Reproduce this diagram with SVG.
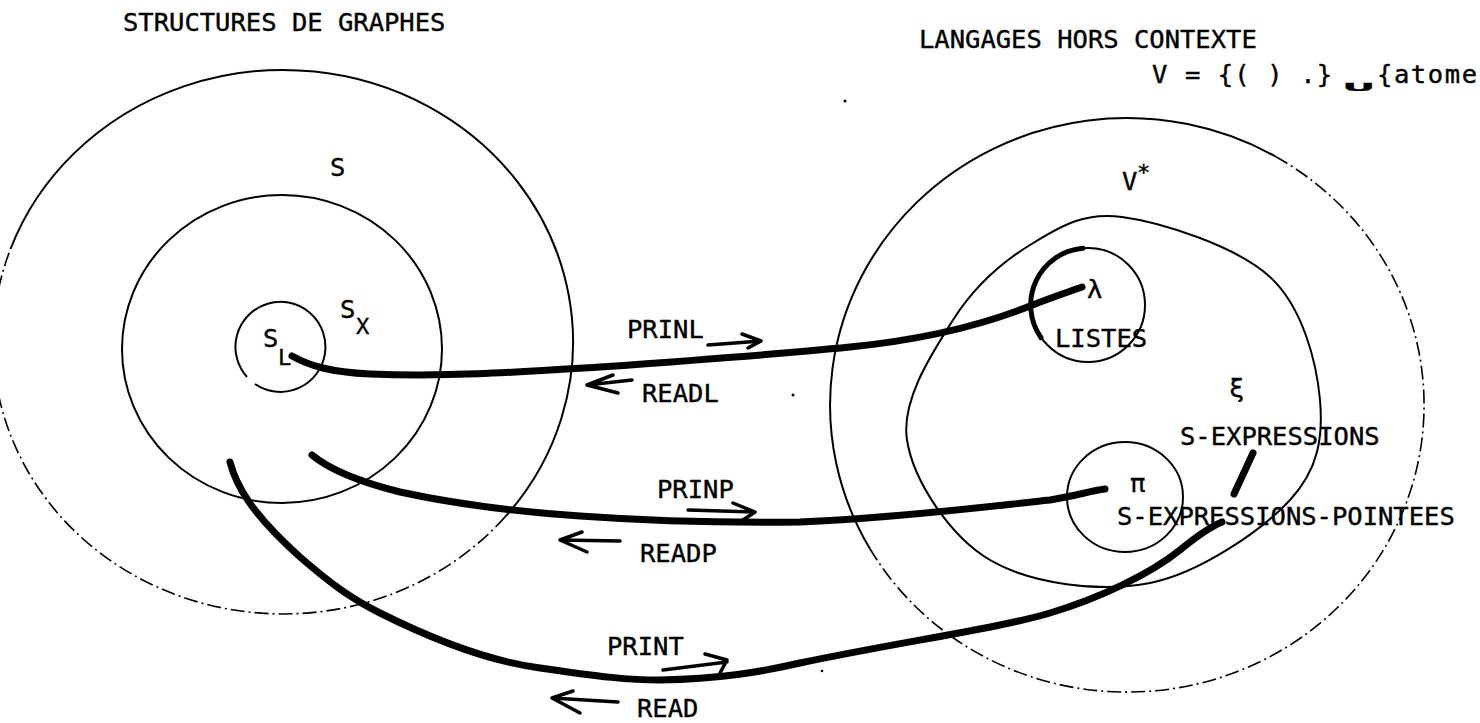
<svg xmlns="http://www.w3.org/2000/svg" width="1480" height="723" viewBox="0 0 1480 723">
<style>
.thin{fill:none;stroke:#000;stroke-width:2}
.dash{fill:none;stroke:#000;stroke-width:1.6;stroke-dasharray:14 4 2 4}
.thick{fill:none;stroke:#000;stroke-width:7;stroke-linecap:round;stroke-linejoin:round}
.arr{fill:none;stroke:#000;stroke-width:3.5;stroke-linecap:round;stroke-linejoin:round}
text{font-family:"DejaVu Sans Mono","Liberation Mono",monospace;font-size:25.5px;fill:#000;stroke:#000;stroke-width:0.4}
.sub{font-size:22px}
</style>
<rect width="1480" height="723" fill="#fff"/>
<g id="titles">
<text x="123" y="31">STRUCTURES DE GRAPHES</text>
<text x="919" y="48">LANGAGES HORS CONTEXTE</text>
<text x="1152" y="83" textLength="180">V = {( ) .}</text>
<text transform="translate(1359,91) scale(2.4,0.55)" text-anchor="middle" font-size="34" font-weight="bold" stroke="#000" stroke-width="2">∪</text>
<text x="1377" y="83" textLength="100">{atome</text>
</g>
<g id="node-S">
<path class="thin" d="M10.5,249 A290,272 0 1 1 505.1,516.9"/>
<path class="dash" d="M505.1,516.9 A290,272 0 0 1 10.5,249"/>
<text x="330" y="176">S</text>
</g>
<g id="node-SX">
<ellipse class="thin" cx="282" cy="349" rx="160" ry="154"/>
<text x="340" y="318">S</text><text class="sub" x="356" y="334">X</text>
</g>
<g id="node-SL">
<path class="thin" d="M247,377 A45,45 0 1 1 255,384"/>
<text x="263" y="347">S</text><text class="sub" x="278" y="365">L</text>
</g>
<g id="node-Vstar">
<path class="thin" d="M869.8,548.5 A297,287 0 0 1 1275.5,156.5"/>
<path class="dash" d="M1275.5,156.5 A297,287 0 1 1 869.8,548.5"/>
<text x="1122" y="190">V</text><text class="sub" x="1137" y="180">*</text>
</g>
<g id="node-xi">
<path class="thin" d="M1122,217 C1162,222.3 1237,246.5 1270,277 C1303,307.5 1316.7,362.8 1320,400 C1323.3,437.2 1318.3,469.5 1290,500 C1261.7,530.5 1200,573 1150,583 C1100,593 1030.5,583.8 990,560 C949.5,536.2 913.2,480 907,440 C900.8,400 932.5,352.5 953,320 C973.5,287.5 1001.8,262.2 1030,245 C1058.2,227.8 1082,211.7 1122,217 Z"/>
<text x="1229" y="397" font-size="24">ξ</text>
<text x="1180" y="445">S-EXPRESSIONS</text>
</g>
<g id="node-lambda">
<circle class="thin" cx="1088" cy="305" r="57"/>
<path fill="none" stroke="#000" stroke-width="5" stroke-linecap="round" d="M1083,248.2 A57,57 0 0 0 1041,337.7"/>
<text x="1087" y="298" font-size="22">λ</text>
<text x="1055" y="347">LISTES</text>
</g>
<g id="node-pi">
<ellipse class="thin" cx="1125" cy="497" rx="58" ry="55"/>
<text x="1130" y="492" font-size="24">π</text>
<text x="1117" y="525">S-EXPRESSIONS-POINTEES</text>
</g>
<g id="connectors">
<path class="thick" d="M292,356 C310,366 330,372 370,374 C450,377 520,372 600,367 C700,360 780,354 850,347 C930,339 990,322 1030,306 C1050,298 1068,292 1082,287"/>
<path class="thick" d="M312,455 C330,470 360,482 400,492 C460,505 520,512 580,516 C650,521 720,523 800,522 C900,518 1000,505 1050,500 C1075,496 1090,491 1105,489"/>
<path class="thick" d="M230,462 C236,485 250,512 300,557 C330,583 350,598 380,613 C420,633 480,660 540,668 C600,677 630,680 660,680 C720,679 760,672 800,663 C900,642 1000,628 1050,613 C1100,598 1150,574 1180,550 C1197,536 1210,527 1222,522"/>
<path class="thick" d="M1253,453 L1234,494"/>
<path class="arr" d="M708,345 L761,341 M742,334 L761,341 L748,348"/>
<path class="arr" d="M632,380 L587,385 M613,375 L587,385 L618,393"/>
<path class="arr" d="M688,510 L755,512 M733,503 L755,512 L740,522"/>
<path class="arr" d="M620,541 L560,540 M582,532 L560,540 L587,552"/>
<path class="arr" d="M663,670 L727,662 M705,654 L727,660 L720,673"/>
<path class="arr" d="M618,702 L552,698 M573,691 L552,698 L580,713"/>
<text x="627" y="338">PRINL</text>
<text x="642" y="402">READL</text>
<text x="657" y="498">PRINP</text>
<text x="640" y="562">READP</text>
<text x="607" y="655">PRINT</text>
<text x="637" y="717">READ</text>
</g>
<g id="specks" fill="#000">
<circle cx="845" cy="101" r="1.5"/>
<circle cx="793" cy="395" r="1.5"/>
<circle cx="822" cy="671" r="1.3"/>
</g>
</svg>
